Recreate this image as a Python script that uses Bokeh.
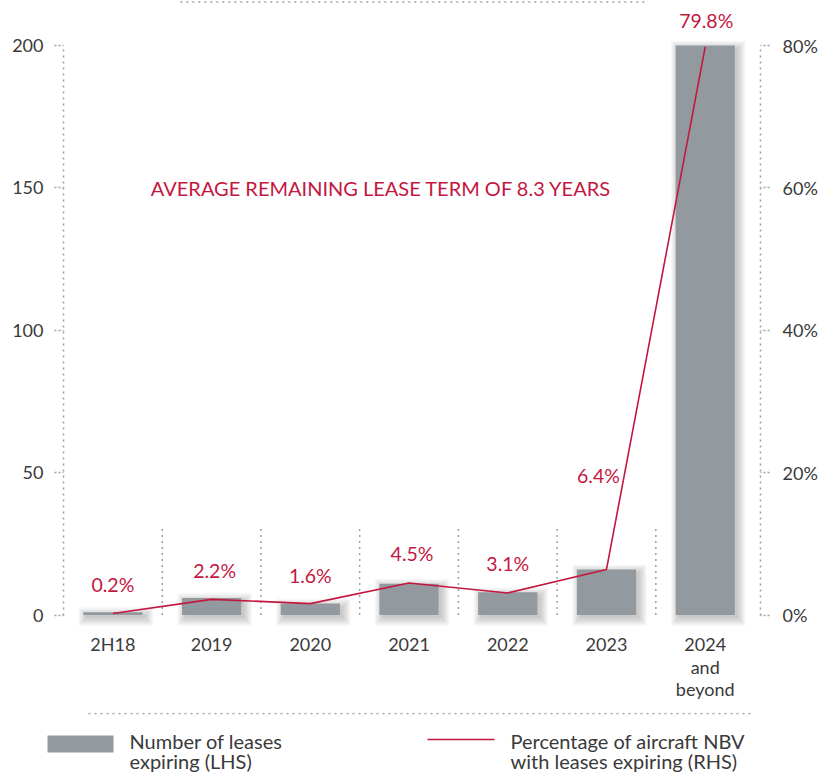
from bokeh.plotting import figure
from bokeh.models import Range1d, LinearAxis, FixedTicker, PrintfTickFormatter
from bokeh.layouts import column
from bokeh.embed import file_html
from bokeh.resources import INLINE
from bokeh.core.properties import value

# ---------------- data ----------------
categories = ["2H18", "2019", "2020", "2021", "2022", "2023", "2024\nand\nbeyond"]
leases = [1, 6, 4, 11, 8, 16, 200]
pct_nbv = [0.2, 2.2, 1.6, 4.5, 3.1, 6.4, 79.8]
pct_labels = ["0.2%", "2.2%", "1.6%", "4.5%", "3.1%", "6.4%", "79.8%"]
left_ticks = [0, 50, 100, 150, 200]
right_ticks = [0, 20, 40, 60, 80]
note_text = "AVERAGE REMAINING LEASE TERM OF 8.3 YEARS"
legend_bar_label = "Number of leases\nexpiring (LHS)"
legend_line_label = "Percentage of aircraft NBV\nwith leases expiring (RHS)"

# ---------------- style ----------------
FONT = "Lato"
GREY = "#939a9f"
RED = "#c4173f"
TXT = "#3a3a3a"
DOT = "#9ca1a6"

W = 821
H1 = 712
H2 = 64


def fix(px):
    # measured shift of the rendered alphabetic baseline
    return 0.44 * px


idx = list(range(len(categories)))
ZERO_PX, TOP_PX = 614.5, 45.0          # pixel rows of 0 and 200
PX_Y = (ZERO_PX - TOP_PX) / 200.0
X0, X1 = -0.5, 6.56
Y1 = 200 + TOP_PX / PX_Y
Y0 = -(H1 - ZERO_PX) / PX_Y
PX_X = 697 / (X1 - X0)
sx, sy = 1 / PX_X, 1 / PX_Y

p = figure(width=W, height=H1, output_backend="svg", toolbar_location=None,
           x_axis_type=None,
           x_range=Range1d(X0, X1), y_range=Range1d(Y0, Y1),
           min_border_left=63, min_border_right=61, min_border_top=0,
           min_border_bottom=0)
p.outline_line_color = None
p.xgrid.grid_line_color = None
p.ygrid.grid_line_color = None
p.extra_y_ranges = {"pct": Range1d(Y0 * 0.4, Y1 * 0.4)}


def style_y(ax):
    ax.bounds = (ax.ticker.ticks[0], ax.ticker.ticks[-1])
    ax.axis_line_color = DOT
    ax.axis_line_width = 1.5
    ax.axis_line_dash = "2 4"
    ax.major_tick_line_color = DOT
    ax.major_tick_line_width = 1.5
    ax.major_tick_line_dash = "2 2"
    ax.major_tick_out = 9
    ax.major_tick_in = 0
    ax.minor_tick_line_color = None
    ax.major_label_text_font = FONT
    ax.major_label_text_font_size = "18px"
    ax.major_label_text_color = TXT


yl = p.yaxis[0]
yl.ticker = FixedTicker(ticks=left_ticks)
style_y(yl)
yl.major_label_standoff = 11

yr = LinearAxis(y_range_name="pct", ticker=FixedTicker(ticks=right_ticks),
                formatter=PrintfTickFormatter(format="%d%%"))
style_y(yr)
yr.major_label_standoff = 13
p.add_layout(yr, "right")

# category labels (drawn at the category positions of the x scale)
lab_x, lab_t, lab_off = [], [], []
for i, c in zip(idx, categories):
    for j, line in enumerate(c.split("\n")):
        lab_x.append(i)
        lab_t.append(line)
        lab_off.append(22.5 * j - fix(18))
p.text(x=lab_x, y=[-(651.7 - ZERO_PX) / PX_Y] * len(lab_x), text=lab_t, y_offset=lab_off,
       text_font=value(FONT), text_font_size="18px", text_color=TXT,
       text_align="center", text_baseline="alphabetic")

# top decorative dotted line
p.segment(x0=[(180 - 112.5) * sx], x1=[(647 - 112.5) * sx], y0=[Y1 - 1.5 * sy], y1=[Y1 - 1.5 * sy],
          line_color=DOT, line_width=1.5, line_dash="2 4")

# dotted separators between categories
mids = [i + 0.5 for i in idx[:-1]]
p.segment(x0=mids, x1=mids, y0=[0] * len(mids), y1=[31.4] * len(mids),
          line_color=DOT, line_width=1.5, line_dash="2 4")

# soft shadow under bars
for k in range(7):
    e = 1.3 * k
    p.vbar(x=[i + 3 * sx for i in idx], width=0.6 + 2 * e * sx,
           top=[v - 3 * sy + e * sy for v in leases],
           bottom=[-(3 + e) * sy] * len(idx),
           fill_color="black", fill_alpha=0.032, line_color=None)

# bars
p.vbar(x=idx, top=leases, bottom=0, width=0.6, fill_color=GREY, line_color=None)

# line
p.line(x=idx, y=pct_nbv, y_range_name="pct", line_color=RED, line_width=1.6)

# percentage labels
yoff = [o - fix(19.5) for o in [-20, -20, -20, -21, -21, -85, -18]]
xoff = [0, 3, 0, 3, 0, -8, 1]
p.text(x=idx, y=pct_nbv, text=pct_labels, y_range_name="pct",
       x_offset=xoff, y_offset=yoff,
       text_font=value(FONT), text_font_size="19.5px", text_color=RED,
       text_align="center", text_baseline="alphabetic")

# note
p.text(x=[(381 - 112.5) * sx], y=[(ZERO_PX - 196.7) / PX_Y], text=[note_text],
       y_offset=[-fix(20)],
       text_font=value(FONT), text_font_size="20px", text_color=RED,
       text_align="center", text_baseline="alphabetic")

# ---------------- legend figure ----------------
q = figure(width=W, height=H2, output_backend="svg", toolbar_location=None,
           x_axis_type=None, y_axis_type=None,
           x_range=Range1d(0, W), y_range=Range1d(H2, 0),
           min_border_left=0, min_border_right=0, min_border_top=0, min_border_bottom=0)
q.xgrid.grid_line_color = None
q.ygrid.grid_line_color = None
q.outline_line_color = None

for fig in (p, q):
    if "frame_align" in fig.properties():
        fig.frame_align = False

q.segment(x0=[88], x1=[750], y0=[1], y1=[1], line_color=DOT, line_width=1.5, line_dash="2 4")
q.quad(left=[47], right=[113], top=[23], bottom=[40], fill_color=GREY, line_color=None)
q.segment(x0=[427], x1=[494], y0=[27], y1=[27], line_color=RED, line_width=1.4)

for xpos, lab in [(129, legend_bar_label), (510, legend_line_label)]:
    lines = lab.split("\n")
    q.text(x=[xpos] * len(lines), y=[37.0 + 20 * j - fix(20) for j in range(len(lines))], text=lines,
           text_font=value(FONT), text_font_size="20px", text_color=TXT,
           text_align="left", text_baseline="alphabetic")

layout = column(p, q, spacing=0)
open("out.html", "w").write(file_html(layout, INLINE))
